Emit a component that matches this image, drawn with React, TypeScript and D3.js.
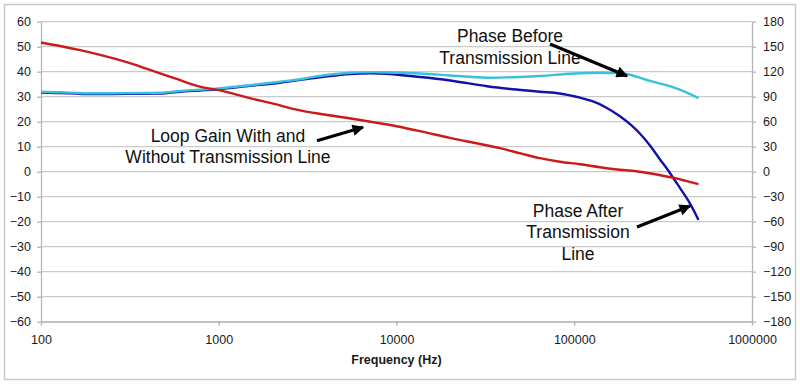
import React, { useEffect, useRef } from 'react';
import * as d3 from 'd3';

// loop gain (dB, left axis)
const gainFreq = [100, 130, 166, 215, 300, 410, 567, 784, 1000, 1500, 2000, 2865, 4000, 6500, 10000, 14000, 20000, 29500, 38200, 50000, 64100, 83000, 107700, 139500, 180000, 234000, 300000, 369000, 430000, 500000];
const gainDb = [51.7, 50.2, 48.6, 46.7, 43.9, 40.7, 37.3, 34.0, 32.6, 29.4, 27.3, 24.5, 22.8, 20.5, 18.2, 16, 13.5, 11.1, 9.4, 7.3, 5.4, 4, 3, 1.8, 0.8, 0, -1.3, -2.6, -3.8, -5];

// phase before transmission line (deg, right axis)
const beforeFreq = [100, 130, 170, 250, 400, 500, 605, 784, 1000, 1500, 2213, 3000, 3700, 5470, 8070, 13560, 20000, 32300, 45000, 64200, 100000, 158600, 200000, 267000, 330000, 379000, 440000, 500000];
const beforeDeg = [96, 95.4, 94.2, 94.2, 94.5, 95.1, 96.9, 98.4, 99.9, 103.8, 108, 111.6, 114.9, 118.8, 119.4, 117.9, 115.5, 112.8, 113.4, 114.9, 117.9, 118.5, 117, 108.9, 103.8, 99.6, 93.9, 88.2];

// phase after transmission line (deg, right axis)
const afterFreq = [100, 130, 170, 250, 400, 500, 605, 784, 1000, 1500, 2213, 3700, 5470, 8070, 13560, 20000, 32300, 45000, 64200, 83100, 107700, 127500, 150000, 180800, 210000, 243000, 270000, 303000, 340000, 379000, 440000, 500000];
const afterDeg = [95.1, 94.5, 93.3, 93.3, 93.6, 94.2, 96, 97.5, 99, 103, 106.8, 113.4, 117.3, 117.9, 113.7, 109.5, 102.6, 99, 96, 93.9, 88.8, 84.3, 77.4, 66.6, 55.5, 42, 30, 15, 0.6, -14.4, -35.4, -57.9];

const leftTicks = [-60, -50, -40, -30, -20, -10, 0, 10, 20, 30, 40, 50, 60];
const rightTicks = [-180, -150, -120, -90, -60, -30, 0, 30, 60, 90, 120, 150, 180];
const freqTicks = [100, 1000, 10000, 100000, 1000000];

// annotations: text lines + arrow (start -> tip), positions in data units
const notes = [
  { lines: ['Phase Before', 'Transmission Line'], f: 43500, deg: 155.6, from: [73000, 153.2], to: [198000, 114.8] },
  { lines: ['Loop Gain With and', 'Without Transmission Line'], f: 1127, deg: 36, from: [3570, 37.2], to: [6480, 53.3] },
  { lines: ['Phase After', 'Transmission', 'Line'], f: 105000, deg: -54, from: [225400, -66.4], to: [448000, -41.2] },
];

const W = 800;
const H = 384;
const font = '"Liberation Sans", Arial, sans-serif';

export default function App() {
  const svgRef = useRef<SVGSVGElement>(null);

  useEffect(() => {
    if (!svgRef.current) return;
    const svg = d3.select(svgRef.current);
    svg.selectAll('*').remove();

    const left = 41, right = 752, top = 21.7, bottom = 321.7;

    const x = d3.scaleLog().domain([100, 1000000]).range([left, right]);
    const yL = d3.scaleLinear().domain([-60, 60]).range([bottom, top]);
    const yR = d3.scaleLinear().domain([-180, 180]).range([bottom, top]);

    svg.append('rect')
      .attr('x', 4.5).attr('y', 4.5)
      .attr('width', 791).attr('height', 375)
      .attr('fill', '#fff')
      .attr('stroke', '#c8c8c8')
      .attr('stroke-width', 1.5);

    // gridlines
    svg.append('g')
      .selectAll('line')
      .data(leftTicks)
      .join('line')
      .attr('x1', left).attr('x2', right)
      .attr('y1', d => yL(d)).attr('y2', d => yL(d))
      .attr('stroke', '#cacaca')
      .attr('stroke-width', 1.3);

    const styleAxis = (g: d3.Selection<SVGGElement, unknown, null, undefined>) => {
      g.select('.domain').attr('stroke', '#b4b4b4').attr('stroke-width', 1.3);
      g.selectAll('.tick line').attr('stroke', '#b4b4b4').attr('stroke-width', 1.3);
      g.selectAll('.tick text').attr('fill', '#1a1a1a')
        .style('font-family', font).style('font-size', '12.5px');
    };

    svg.append('g')
      .attr('transform', `translate(${left},0)`)
      .call(d3.axisLeft(yL).tickValues(leftTicks).tickSize(4).tickPadding(6).tickSizeOuter(0))
      .call(styleAxis);

    svg.append('g')
      .attr('transform', `translate(${right},0)`)
      .call(d3.axisRight(yR).tickValues(rightTicks).tickSize(4).tickPadding(7).tickSizeOuter(0))
      .call(styleAxis);

    svg.append('g')
      .attr('transform', `translate(0,${bottom})`)
      .call(d3.axisBottom(x).tickValues(freqTicks).tickFormat(d3.format('d')).tickSize(4).tickPadding(9.4).tickSizeOuter(0))
      .call(styleAxis);

    svg.append('text')
      .attr('x', (left + right) / 2)
      .attr('y', 364)
      .attr('text-anchor', 'middle')
      .style('font-family', font)
      .style('font-size', '12.5px')
      .style('font-weight', 'bold')
      .attr('fill', '#1a1a1a')
      .text('Frequency (Hz)');

    const drawLine = (fs: number[], vs: number[], y: d3.ScaleLinear<number, number>, color: string, w: number) => {
      const pts: [number, number][] = fs.map((f, i) => [f, vs[i]]);
      const line = d3.line<[number, number]>()
        .x(d => x(d[0]))
        .y(d => y(d[1]))
        .curve(d3.curveCatmullRom.alpha(0.5));
      svg.append('path')
        .datum(pts)
        .attr('d', line)
        .attr('fill', 'none')
        .attr('stroke', color)
        .attr('stroke-width', w)
        .attr('stroke-linejoin', 'round');
    };

    drawLine(afterFreq, afterDeg, yR, '#1212a8', 2.4);
    drawLine(beforeFreq, beforeDeg, yR, '#38c0dc', 2.4);
    drawLine(gainFreq, gainDb, yL, '#cc1a1a', 2.4);

    // annotations
    const defs = svg.append('defs');
    defs.append('marker')
      .attr('id', 'head')
      .attr('viewBox', '0 0 10 10')
      .attr('refX', 9).attr('refY', 5)
      .attr('markerWidth', 4.4).attr('markerHeight', 3.6)
      .attr('markerUnits', 'strokeWidth')
      .attr('orient', 'auto')
      .append('path')
      .attr('d', 'M0,0 L10,5 L0,10 Z')
      .attr('fill', '#000');

    notes.forEach(n => {
      const t = svg.append('text')
        .attr('x', x(n.f))
        .attr('y', yR(n.deg))
        .attr('text-anchor', 'middle')
        .style('font-family', font)
        .style('font-size', '17.5px')
        .attr('fill', '#111');
      n.lines.forEach((l, i) => {
        t.append('tspan')
          .attr('x', x(n.f))
          .attr('dy', i === 0 ? 0 : 21.5)
          .text(l);
      });
      svg.append('line')
        .attr('x1', x(n.from[0])).attr('y1', yR(n.from[1]))
        .attr('x2', x(n.to[0])).attr('y2', yR(n.to[1]))
        .attr('stroke', '#000')
        .attr('stroke-width', 3.2)
        .attr('marker-end', 'url(#head)');
    });
  }, []);

  return (
    <svg ref={svgRef} width={W} height={H}
      style={{ position: 'absolute', left: 0, top: 0, display: 'block', background: '#fff' }} />
  );
}
